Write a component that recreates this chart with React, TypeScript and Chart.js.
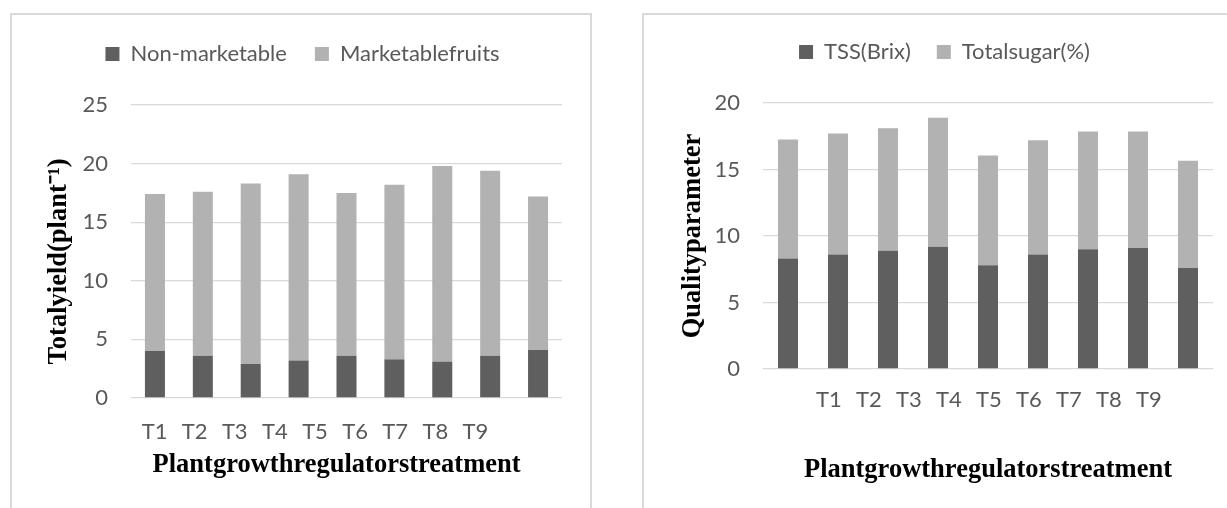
import React, { useEffect, useRef } from 'react';
import { Chart, registerables } from 'chart.js';

Chart.register(...registerables);

// ---------- data ----------
const treatments = ['T1', 'T2', 'T3', 'T4', 'T5', 'T6', 'T7', 'T8', 'T9'];

const yieldSeriesNames = ['Non-marketable', 'Marketablefruits'];
const nonMarketable = [4.0, 3.6, 2.9, 3.2, 3.6, 3.3, 3.1, 3.6, 4.1];
const marketableFruits = [13.4, 14.0, 15.4, 15.9, 13.9, 14.9, 16.7, 15.8, 13.1];
const yieldTickStep = 5;
const yieldMax = 25;

const qualitySeriesNames = ['TSS(Brix)', 'Totalsugar(%)'];
const tssBrix = [8.3, 8.6, 8.9, 9.2, 7.8, 8.6, 9.0, 9.1, 7.6];
const totalSugar = [8.95, 9.1, 9.2, 9.7, 8.25, 8.6, 8.85, 8.75, 8.05];
const qualityTickStep = 5;
const qualityMax = 20;

const yieldYTitle = 'Totalyield(plant\u207B\u00B9)   ';
const qualityYTitle = 'Qualityparameter';
const yieldXTitle = 'Plantgrowthregulatorstreatment   ';
const qualityXTitle = 'Plantgrowthregulatorstreatment';

// ---------- style ----------
const DARK = '#5f5f5f';
const LIGHT = '#b2b2b2';
const GRID = '#d9d9d9';
const TEXT = '#595959';
const SANS = 'Lato';
const SERIF = '"Liberation Serif", "Times New Roman", serif';

type Params = {
  names: string[];
  values: number[][];
  yMax: number;
  yStep: number;
  yTitle: string;
  xTitle: string;
  barPct: number;
  padLeft: number;
  yWidth: number;
  rightWidth: number;
  bottomH: number;
  xTickPad: number;
  xTitlePad: number;
  yTitlePad: number;
  legendPad: number;
  lmin: number;
  lmax: number;
};

function buildConfig(p: Params): any {
  return {
    type: 'bar',
    data: {
      labels: treatments,
      datasets: [
        {
          label: p.names[0],
          data: p.values[0],
          backgroundColor: DARK,
          barPercentage: p.barPct,
          categoryPercentage: 1,
        },
        {
          label: p.names[1],
          data: p.values[1],
          backgroundColor: LIGHT,
          barPercentage: p.barPct,
          categoryPercentage: 1,
        },
      ],
    },
    options: {
      animation: false,
      responsive: false,
      maintainAspectRatio: false,
      layout: { padding: { left: p.padLeft, right: 0, top: 0, bottom: 0 } },
      plugins: {
        legend: {
          position: 'top',
          labels: {
            boxWidth: 14,
            boxHeight: 14,
            padding: p.legendPad,
            color: TEXT,
            font: { family: SANS, size: 22 },
          },
        },
        title: {
          display: true,
          text: '',
          weight: 500,
          padding: 0,
          font: { size: 30, lineHeight: 1 },
        },
        tooltip: { enabled: false },
      },
      scales: {
        x: { stacked: true, display: false },
        xl: {
          type: 'linear',
          position: 'bottom',
          offset: false,
          min: p.lmin,
          max: p.lmax,
          afterBuildTicks: (s: any) => {
            s.ticks = treatments.map((_, i) => ({ value: i }));
          },
          ticks: {
            autoSkip: false,
            maxRotation: 0,
            padding: p.xTickPad,
            color: TEXT,
            font: { family: SANS, size: 22 },
            callback: (v: any) => treatments[v] ?? '',
          },
          grid: { display: false, drawTicks: false },
          border: { display: false },
          title: {
            display: true,
            text: p.xTitle,
            color: '#000',
            font: { family: SERIF, size: 26.5, weight: 'bold' },
            padding: { top: 0, bottom: p.xTitlePad },
          },
          afterFit: (s: any) => {
            s.height = p.bottomH;
          },
        },
        y: {
          stacked: true,
          min: 0,
          max: p.yMax,
          ticks: {
            stepSize: p.yStep,
            padding: 23,
            color: TEXT,
            font: { family: SANS, size: 22 },
          },
          grid: { color: GRID, lineWidth: 1.3, drawTicks: false },
          border: { display: false },
          title: {
            display: true,
            text: p.yTitle,
            color: '#000',
            font: { family: SERIF, size: 26.5, weight: 'bold' },
            padding: { top: p.yTitlePad, bottom: 0 },
          },
          afterFit: (s: any) => {
            s.width = p.yWidth;
          },
        },
        yr: {
          type: 'linear',
          position: 'right',
          ticks: { display: false },
          grid: { display: false, drawTicks: false },
          border: { display: false },
          afterFit: (s: any) => {
            s.width = p.rightWidth;
          },
        },
      },
    },
  };
}

function ChartBox(props: { params: Params; width: number; height: number }) {
  const ref = useRef<HTMLCanvasElement | null>(null);
  useEffect(() => {
    if (!ref.current) return;
    const chart = new Chart(ref.current, buildConfig(props.params));
    return () => chart.destroy();
  }, []);
  return (
    <canvas
      ref={ref}
      width={props.width}
      height={props.height}
      style={{ display: 'block', width: props.width, height: props.height }}
    />
  );
}

const leftParams: Params = {
  names: yieldSeriesNames,
  values: [nonMarketable, marketableFruits],
  yMax: yieldMax,
  yStep: yieldTickStep,
  yTitle: yieldYTitle,
  xTitle: yieldXTitle,
  barPct: 0.418,
  padLeft: 3,
  yWidth: 116,
  rightWidth: 28,
  bottomH: 110,
  xTickPad: 21,
  xTitlePad: 27,
  yTitlePad: 28,
  legendPad: 28,
  lmin: -0.586,
  lmax: 10.156,
};

const rightParams: Params = {
  names: qualitySeriesNames,
  values: [tssBrix, totalSugar],
  yMax: qualityMax,
  yStep: qualityTickStep,
  yTitle: qualityYTitle,
  xTitle: qualityXTitle,
  barPct: 0.4,
  padLeft: 18,
  yWidth: 101,
  rightWidth: 14,
  bottomH: 139,
  xTickPad: 18,
  xTitlePad: 22,
  yTitlePad: 15,
  legendPad: 26,
  lmin: -1.65,
  lmax: 9.6,
};

export default function App() {
  return (
    <div
      style={{
        position: 'fixed',
        left: 0,
        top: 0,
        width: 1227,
        height: 508,
        overflow: 'hidden',
        background: '#fff',
      }}
    >
      <div
        style={{
          position: 'absolute',
          left: 10,
          top: 13,
          width: 582,
          height: 530,
          border: `2px solid ${GRID}`,
          boxSizing: 'border-box',
        }}
      >
        <ChartBox params={leftParams} width={578} height={493} />
      </div>
      <div
        style={{
          position: 'absolute',
          left: 642,
          top: 13,
          width: 640,
          height: 530,
          border: `2px solid ${GRID}`,
          boxSizing: 'border-box',
        }}
      >
        <ChartBox params={rightParams} width={583} height={493} />
      </div>
    </div>
  );
}
